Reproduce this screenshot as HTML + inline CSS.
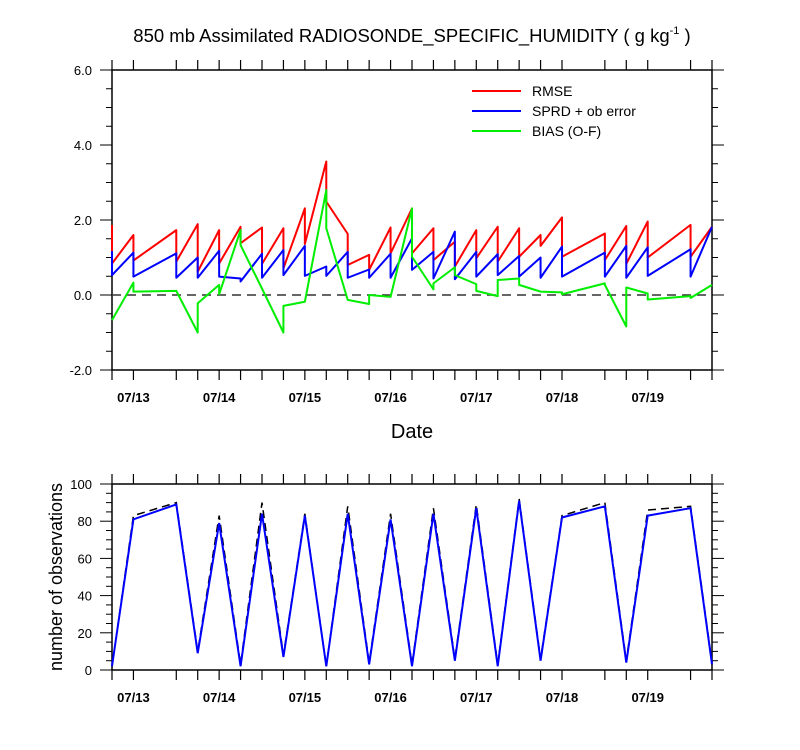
<!DOCTYPE html>
<html><head><meta charset="utf-8"><style>
body{margin:0;background:#fff;}
svg{display:block;font-family:"Liberation Sans",sans-serif;}
</style></head><body>
<svg id="chart" width="800" height="750" viewBox="0 0 800 750">
<rect width="800" height="750" fill="#fff"/>
<text x="412" y="42" font-size="18.5" text-anchor="middle">850 mb Assimilated RADIOSONDE_SPECIFIC_HUMIDITY ( g kg<tspan font-size="11" dy="-8">-1</tspan><tspan dy="8"> )</tspan></text>
<g id="gtop"></g>
<g id="gbot"></g>
<text x="412" y="438" font-size="20" text-anchor="middle">Date</text>
<text transform="translate(62,577) rotate(-90)" font-size="18" text-anchor="middle">number of observations</text>
<g>
<line x1="472" y1="91" x2="521" y2="91" stroke="#f00" stroke-width="2"/>
<text x="532" y="96" font-size="14">RMSE</text>
<line x1="472" y1="111" x2="521" y2="111" stroke="#00f" stroke-width="2"/>
<text x="532" y="116" font-size="14">SPRD + ob error</text>
<line x1="472" y1="131" x2="521" y2="131" stroke="#0e0" stroke-width="2"/>
<text x="532" y="136" font-size="14">BIAS (O-F)</text>
</g>
</svg>
<script>
// time index in 6-hour steps from 07/12 18Z
const times=[0,1,3,4,5,6,7,8,9,10,11,12,13,14,15,16,17,18,19,20,21,23,24,25,27,28];
const rmsePrior=[1.87,1.6,1.73,1.89,1.73,1.82,1.8,1.78,2.31,3.56,1.63,1.07,1.8,2.31,1.78,1.42,1.73,1.82,1.78,1.6,2.07,1.64,1.84,1.96,1.87,1.82];
const rmsePost=[0.84,0.92,0.89,0.62,0.84,1.38,0.83,0.71,1.36,2.49,0.8,0.67,1.11,1.11,0.93,0.76,0.98,0.89,1.02,1.31,1.02,0.93,0.83,1.0,1.02,1.82];
const sprdPrior=[1.17,1.13,1.11,1.0,1.18,0.44,1.1,1.2,1.31,0.76,1.15,0.68,1.1,1.51,1.15,1.69,1.15,1.09,1.04,1.0,1.29,1.13,1.31,1.27,1.22,1.82];
const sprdPost=[0.53,0.49,0.46,0.46,0.49,0.36,0.46,0.53,0.51,0.51,0.46,0.46,0.46,0.67,0.44,0.42,0.49,0.53,0.49,0.46,0.49,0.49,0.46,0.51,0.49,1.82];
const biasPrior=[-0.67,0.33,0.11,-1.0,0.27,1.73,0.17,-1.0,-0.18,2.8,-0.13,-0.24,-0.05,2.31,0.15,0.74,0.29,-0.03,0.44,0.09,0.07,0.31,-0.84,0.04,-0.03,0.27];
const biasPost=[-0.67,0.09,0.11,-0.22,0.02,1.33,0.17,-0.29,-0.18,1.78,-0.13,0.0,-0.05,1.02,0.31,0.53,0.11,0.4,0.27,0.09,0.02,0.27,0.2,-0.12,-0.08,0.27];
const obsUsed=[2,81,89,9,79,2,84,7,83,2,84,3,81,2,84,5,87,2,91,5,82,88,4,83,87,3];
const obsPossible=[2,83,90,10,83,3,90,8,84,2,88,4,84,3,87,6,89,3,92,6,83,90,5,86,88,4];
const dateLabels=["07/13","07/14","07/15","07/16","07/17","07/18","07/19"];
const dateIdx=[1,5,9,13,17,21,25];
const topTicks=[6,4,2,0,-2];
const botTicks=[0,20,40,60,80,100];

const NS="http://www.w3.org/2000/svg";
const X0=112,X1=712;
const xs=t=>X0+(X1-X0)*t/28;
const yTop=v=>295-v*37.5;
const yBot=v=>670-v*1.86;
function mk(tag,attrs,parent){const e=document.createElementNS(NS,tag);for(const k in attrs)e.setAttribute(k,attrs[k]);parent.appendChild(e);return e;}
const gTop=document.getElementById('gtop'),gBot=document.getElementById('gbot');

function frame(g,yT,yB,name){
  const f=mk('rect',{x:X0,y:yT,width:X1-X0,height:yB-yT,fill:'none',stroke:'#000','stroke-width':1.5},g);
  
  
  times.forEach(t=>{
    const x=xs(t);
    const a=mk('line',{x1:x,y1:yT,x2:x,y2:yT-10,stroke:'#000','stroke-width':1.2},g);
    
    
    const b=mk('line',{x1:x,y1:yB,x2:x,y2:yB+10,stroke:'#000','stroke-width':1.2},g);
    
    
  });
  dateIdx.forEach((t,i)=>{
    const l=mk('text',{x:xs(t),y:yB+32,'font-size':13,'font-weight':'bold','text-anchor':'middle'},g);
    l.textContent=dateLabels[i];
    
    
  });
}
function yAxis(g,ticks,yf,minorStep,fmt){
  const lo=Math.min(...ticks);
  const hi=Math.max(...ticks);
  for(let v=lo;v<=hi+1e-9;v+=minorStep){
    const y=yf(v);
    const major=ticks.some(t=>Math.abs(t-v)<1e-9);
    const len=major?12:6;
    const l=mk('line',{x1:X0,y1:y,x2:X0-len,y2:y,stroke:'#000','stroke-width':1},g);
    
    
    const r=mk('line',{x1:X1,y1:y,x2:X1+len,y2:y,stroke:'#000','stroke-width':1},g);
    
    
  }
  ticks.forEach(v=>{
    const t=mk('text',{x:X0-20,y:yf(v)+5,'font-size':13,'text-anchor':'end'},g);
    t.textContent=fmt(v);
    
    
  });
}
function saw(g,pri,post,color,name){
  let d='';
  times.forEach((t,i)=>{
    const x=xs(t);
    d+=(i?'L':'M')+x+','+yTop(pri[i])+'L'+x+','+yTop(post[i]);
  });
  const p=mk('path',{d:d,fill:'none',stroke:color,'stroke-width':2,'stroke-linejoin':'round'},g);
  
  
}
frame(gTop,70,370,'top-plot');
yAxis(gTop,topTicks,yTop,0.5,v=>v.toFixed(1));
const z=mk('line',{x1:X0,y1:yTop(0),x2:X1,y2:yTop(0),stroke:'#333','stroke-width':1.5,'stroke-dasharray':'9,6'},gTop);


saw(gTop,rmsePrior,rmsePost,'#f00','rmse-line');
saw(gTop,sprdPrior,sprdPost,'#00f','sprd-line');
saw(gTop,biasPrior,biasPost,'#0e0','bias-line');

frame(gBot,484,670,'bottom-plot');
yAxis(gBot,botTicks,yBot,5,v=>String(v));
function line(g,vals,color,dash,name,w){
  const d=times.map((t,i)=>(i?'L':'M')+xs(t)+','+yBot(vals[i])).join('');
  const a={d:d,fill:'none',stroke:color,'stroke-width':w};
  if(dash)a['stroke-dasharray']=dash;
  const p=mk('path',a,g);
  
  
}
line(gBot,obsPossible,'#000','8,5','obs-possible-line',1.5);
line(gBot,obsUsed,'#00f',null,'obs-used-line',2);
</script>
</body></html>
